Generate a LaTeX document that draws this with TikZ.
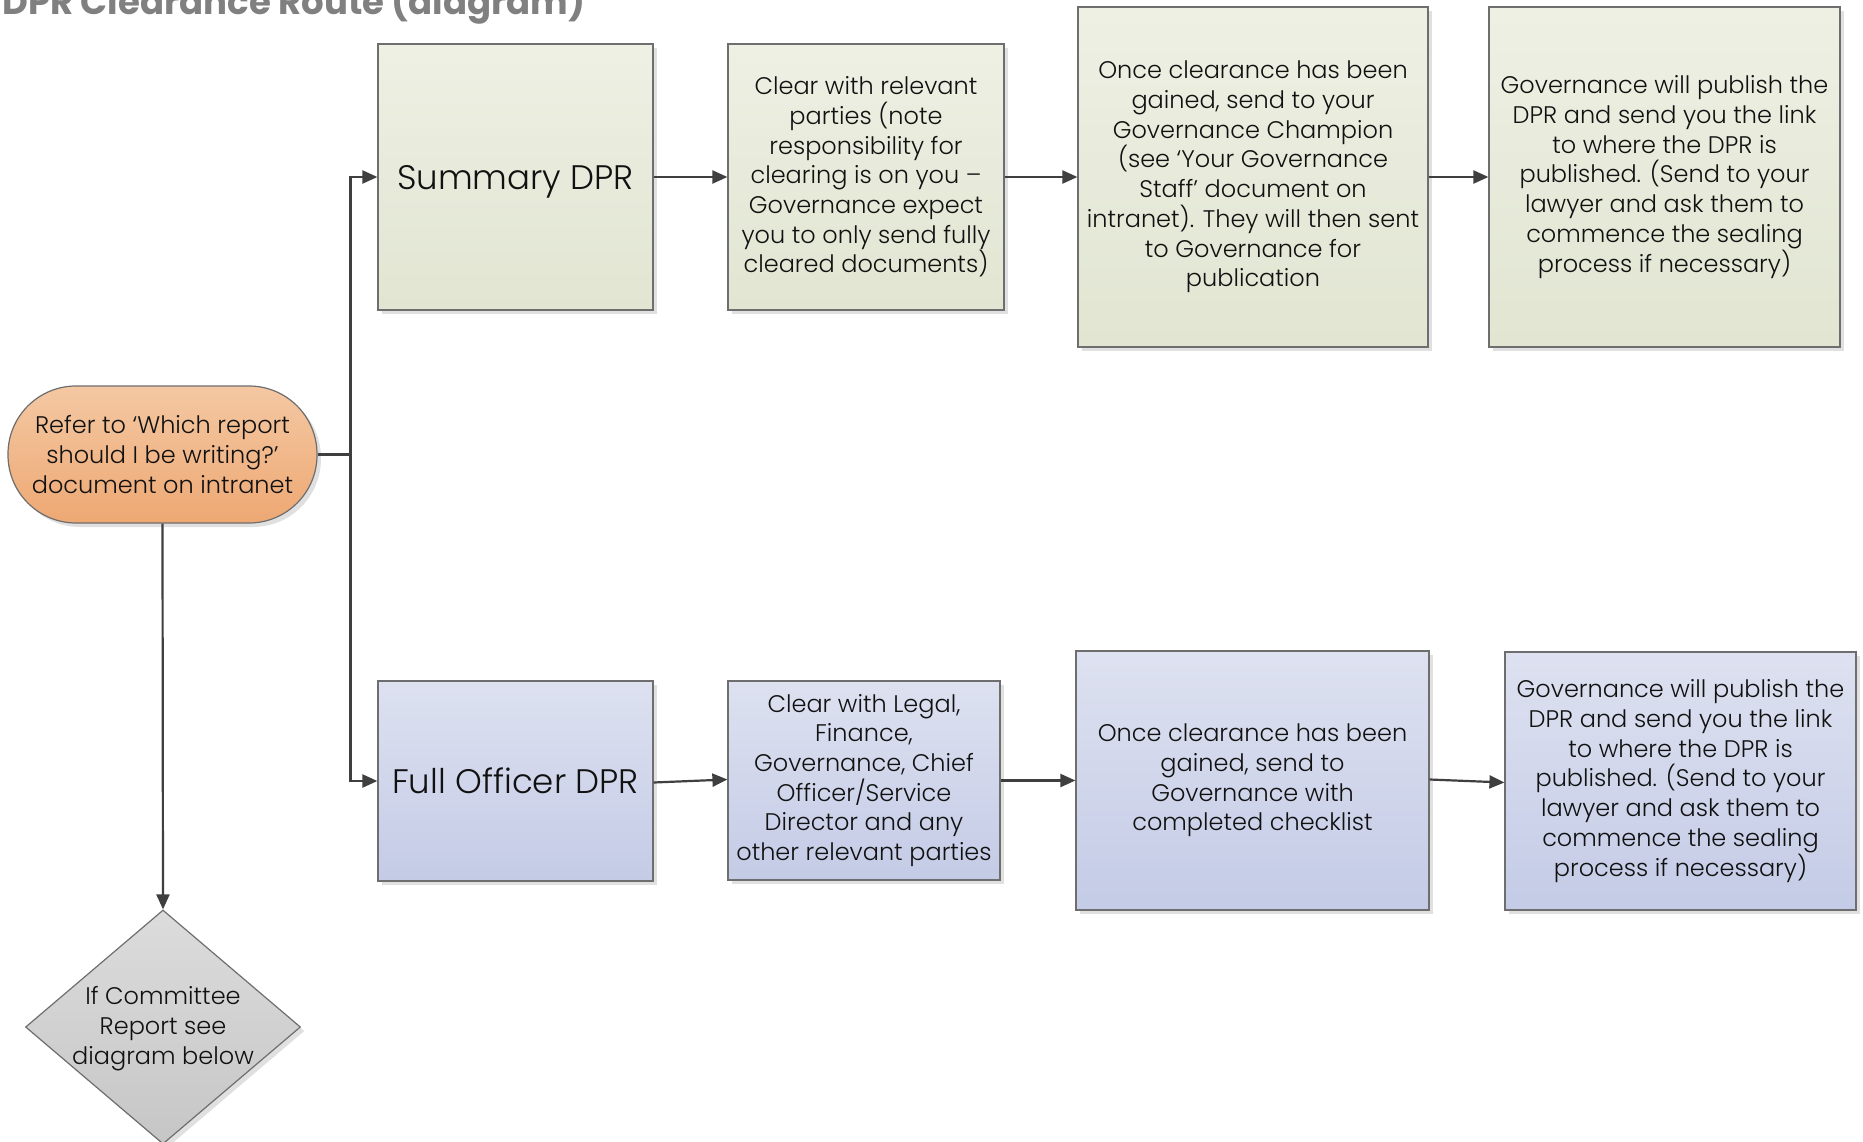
\documentclass[tikz,border=0pt]{standalone}
\usepackage{fontspec}
\IfFontExistsTF{Poppins Light}{\setmainfont{Poppins Light}[BoldFont={Poppins Bold}]}{\setmainfont{Poppins}}
\usetikzlibrary{arrows.meta,shapes.geometric,shadows,calc}
\definecolor{grtop}{HTML}{EEF0E4}
\definecolor{grbot}{HTML}{E1E5D1}
\definecolor{bltop}{HTML}{DDE1F0}
\definecolor{blbot}{HTML}{C4CBE6}
\definecolor{ortop}{HTML}{F4C8A3}
\definecolor{orbot}{HTML}{EEA873}
\definecolor{gytop}{HTML}{DCDCDC}
\definecolor{gybot}{HTML}{C6C6C6}
\definecolor{edgegray}{HTML}{6E6E6E}
\definecolor{conn}{HTML}{3F3F3F}
\definecolor{titlegray}{HTML}{808080}
\definecolor{txt}{HTML}{111111}
\begin{document}
\begin{tikzpicture}[x=1pt,y=-1pt,
  box/.style={draw=edgegray, line width=1.2pt, align=center, inner sep=0pt, text=txt,
    font=\fontsize{24}{29.7}\selectfont,
    drop shadow={shadow xshift=4pt, shadow yshift=-4pt, fill=black, opacity=0.12}},
  greenbox/.style={box, top color=grtop, bottom color=grbot},
  bluebox/.style={box, top color=bltop, bottom color=blbot},
  bigtext/.style={font=\fontsize{34}{40}\selectfont, text depth=0pt},
  conn/.style={draw=conn, line width=2.2pt},
  arr/.style={conn, -{Triangle[length=15pt,width=13pt]}}
]
\useasboundingbox (0,0) rectangle (1863,1142);
\clip (0,0) rectangle (1863,1142);
\fill[white] (0,0) rectangle (1863,1142);

\node[anchor=base west, text=titlegray, inner sep=0pt, font=\fontsize{35.5}{40}\selectfont\bfseries] (title) at (2,15) {DPR Clearance Route (diagram)};

% top row
\node[greenbox, bigtext, minimum width=275pt, minimum height=266pt] (sum) at (515.5,177) {Summary DPR};
\node[greenbox, minimum width=276pt, minimum height=266pt] (clr) at (866,177) {Clear with relevant\\parties (note\\responsibility for\\clearing is on you –\\Governance expect\\you to only send fully\\cleared documents)};
\node[greenbox, minimum width=350pt, minimum height=340pt] (once1) at (1253,177) {Once clearance has been\\gained, send to your\\Governance Champion\\(see ‘Your Governance\\Staff’ document on\\intranet). They will then sent\\to Governance for\\publication};
\node[greenbox, minimum width=351pt, minimum height=340pt] (gov1) at (1664.5,177) {Governance will publish the\\DPR and send you the link\\to where the DPR is\\published. (Send to your\\lawyer and ask them to\\commence the sealing\\process if necessary)};

% bottom row
\node[bluebox, bigtext, minimum width=275pt, minimum height=200pt] (fo) at (515.5,781) {Full Officer DPR};
\node[bluebox, minimum width=272pt, minimum height=199pt] (cl2) at (864,780.5) {Clear with Legal,\\Finance,\\Governance, Chief\\Officer/Service\\Director and any\\other relevant parties};
\node[bluebox, minimum width=353pt, minimum height=259pt] (once2) at (1252.5,780.5) {Once clearance has been\\gained, send to\\Governance with\\completed checklist};
\node[bluebox, minimum width=351pt, minimum height=258pt] (gov2) at (1680.5,781) {Governance will publish the\\DPR and send you the link\\to where the DPR is\\published. (Send to your\\lawyer and ask them to\\commence the sealing\\process if necessary)};

% start oval
\node[box, top color=ortop, bottom color=orbot, rounded corners=68pt, minimum width=309pt, minimum height=137pt] (start) at (162.5,454.5) {Refer to ‘Which report\\should I be writing?’\\document on intranet};

% diamond
\node[box, diamond, top color=gytop, bottom color=gybot, minimum width=275pt, minimum height=234pt] (dec) at (163,1027) {};
\node[align=center, inner sep=0pt, text=txt, font=\fontsize{24}{29.7}\selectfont] (dectext) at ($(dec.center)+(0,1.5)$) {If Committee\\Report see\\diagram below};

% connectors
\coordinate (j) at (350.5,454.5);
\draw[conn] (start.east) -- (j);
\draw[arr] (j) |- (sum.west);
\draw[arr] (j) |- (fo.west);
\draw[arr] (sum.east) -- (clr.west);
\draw[arr] (clr.east) -- (once1.west);
\draw[arr] (once1.east) -- (gov1.west);
\draw[arr] ($(fo.east)+(0,1.5)$) -- ($(cl2.west)+(0,-1)$);
\draw[arr] (cl2.east) -- (once2.west);
\draw[arr] ($(once2.east)+(0,-1)$) -- ($(gov2.west)+(0,1.5)$);
\draw[arr] (start.south) -- (dec.north);
\end{tikzpicture}
\end{document}
